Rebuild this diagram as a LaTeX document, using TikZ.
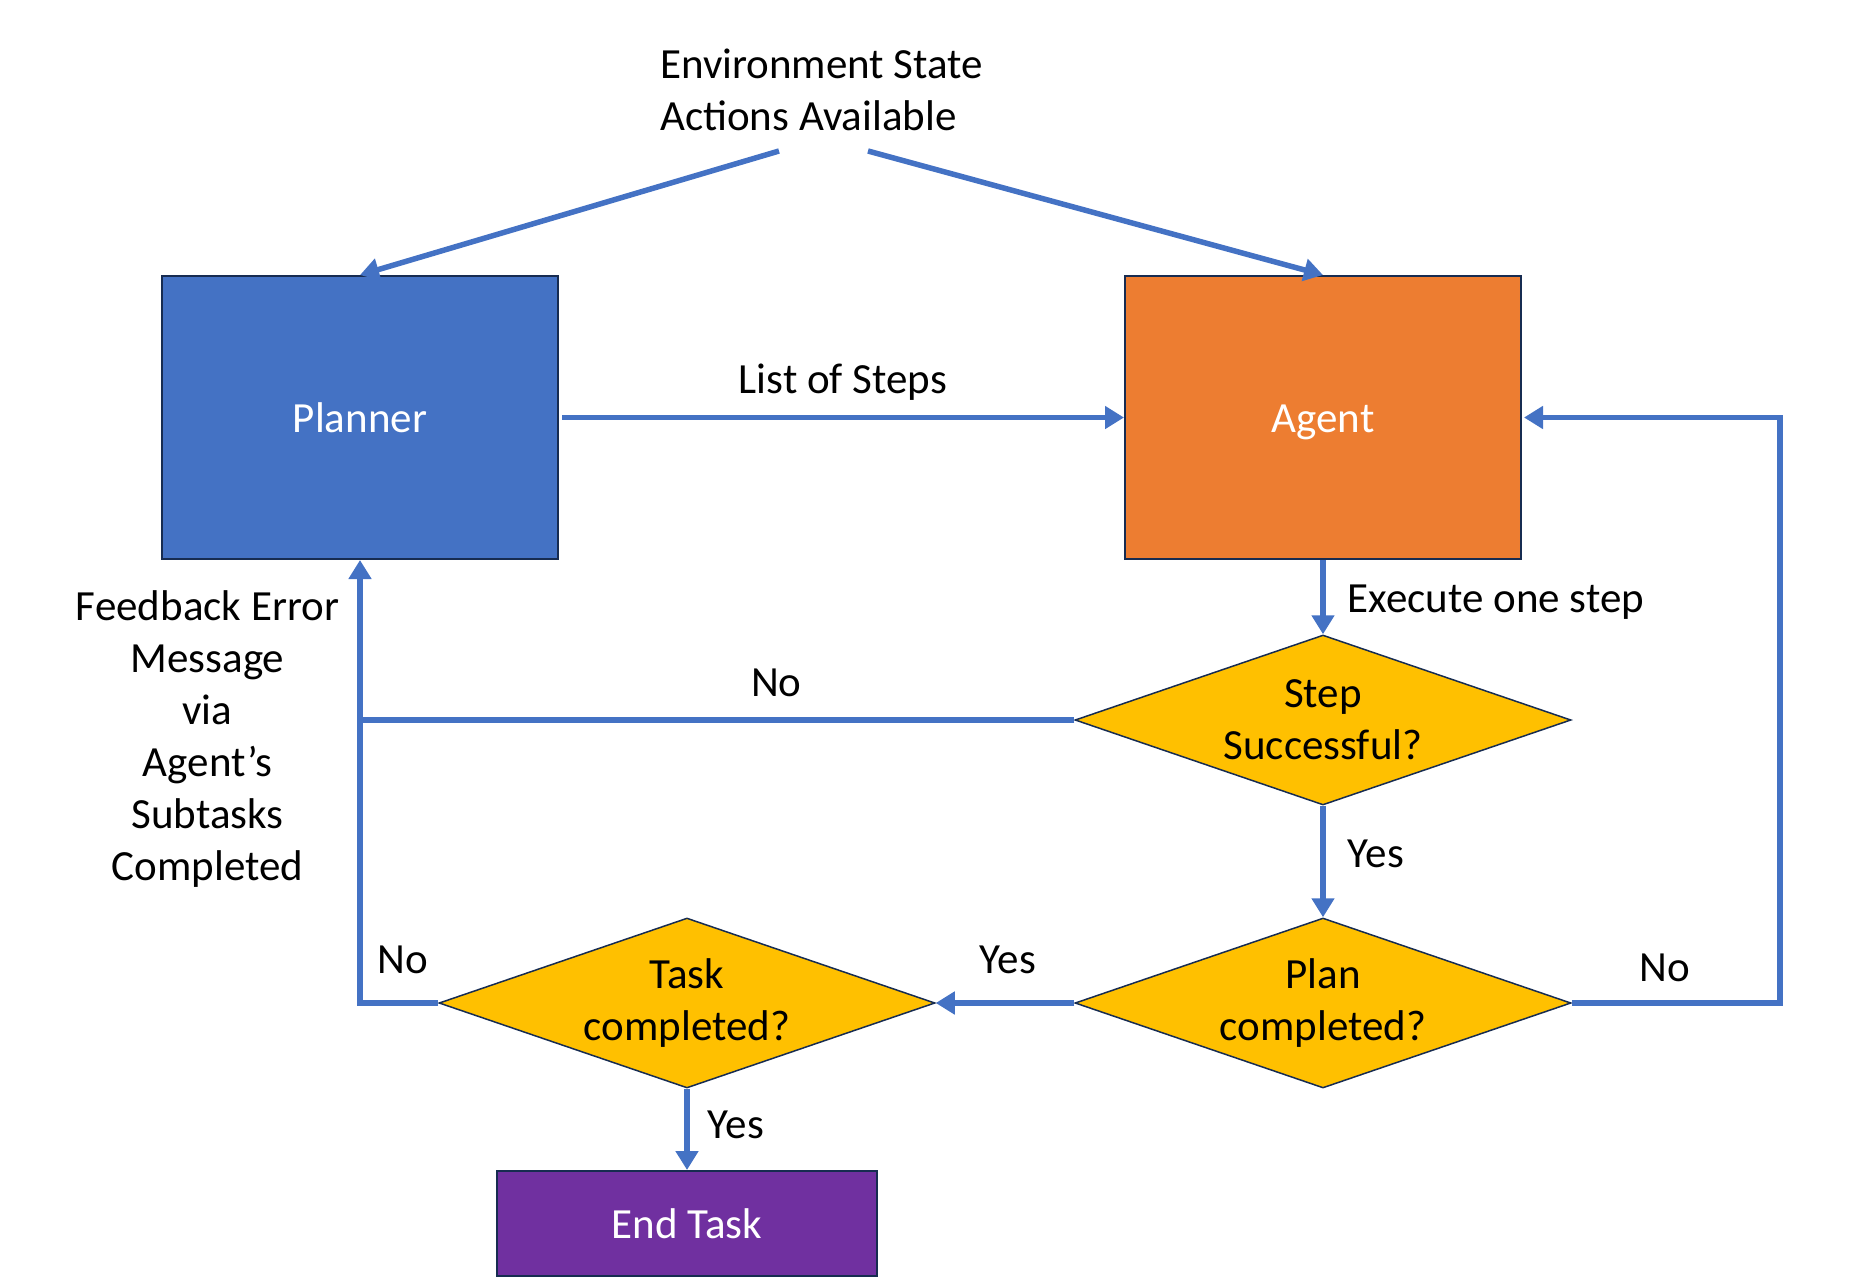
\documentclass[tikz,border=0pt]{standalone}
\usepackage{fontspec}
\setmainfont{Carlito}
\usetikzlibrary{shapes.geometric,arrows.meta}
\definecolor{pblue}{HTML}{4472C4}
\definecolor{porange}{HTML}{ED7D31}
\definecolor{pgold}{HTML}{FFC000}
\definecolor{ppurple}{HTML}{7030A0}
\definecolor{pnavy}{HTML}{172C51}
\tikzset{
  every node/.style={font=\fontsize{43}{52}\selectfont, inner sep=0pt},
  box/.style={draw=pnavy, line width=2pt, text=white, minimum width=396pt, minimum height=283pt,
    text height=30pt, text depth=0pt},
  decision/.style={diamond, draw=pnavy, line width=1.5pt, fill=pgold, shape aspect=2.95,
    minimum width=496pt, minimum height=170pt, align=center},
  conn/.style={draw=pblue, line width=5.5pt},
  arr/.style={conn, -{Triangle[width=22pt,length=19pt]}},
  lbl/.style={text=black}
}
\begin{document}
\begin{tikzpicture}[x=1pt,y=-1pt]
\useasboundingbox (0,0) rectangle (1850,1286);
% nodes
\node[lbl, align=left, anchor=west] (env) at (660,90) {Environment State\\Actions Available};
\coordinate (e1) at (779,151);
\coordinate (e2) at (868,151);
\node[box, fill=pblue] (planner) at (360,417.5) {Planner};
\node[box, fill=porange] (agent) at (1323,417.5) {Agent};
\node[decision] (step) at (1323,720) {Step\\Successful?};
\node[decision] (plan) at (1323,1003) {Plan\\completed?};
\node[decision] (task) at (687,1003) {Task\\completed?};
\node[draw=pnavy, line width=2pt, fill=ppurple, text=white, minimum width=380pt, minimum height=105pt] (endt) at (687,1223.5) {End Task};
\coordinate (jr) at (1780,1003);
% connectors
\draw[arr] (e1) -- (planner.north);
\draw[arr] (e2) -- (agent.north);
\draw[arr] ([xshift=3pt]planner.east) -- node[lbl, above=14pt] (los) {List of Steps} (agent.west);
\draw[arr] (agent.south) -- node[lbl, right=22pt, pos=0.57] (exe) {Execute one step} (step.north);
\draw[conn] (step.west) -- node[lbl, above=20pt, pos=0.417] (no1) {No} (planner.south |- step.west);
\draw[arr] (task.west) -| (planner.south);
\draw[arr] (step.south) -- node[lbl, right=22pt, pos=0.43] (yes1) {Yes} (plan.north);
\draw[arr] (plan.west) -- node[lbl, above=26pt, pos=0.48] (yes2) {Yes} (task.east);
\draw[arr] (plan.east) -- (jr) |- ([xshift=2pt]agent.east);
\draw[arr] (task.south) -- node[lbl, right=18pt, pos=0.45] (yes3) {Yes} (endt.north);
\node[lbl] (no2) at (1665,968) {No};
\node[lbl] (no3) at (403,960) {No};
\node[lbl, align=center] (fb) at (207.5,739) {Feedback Error\\Message\\via\\Agent’s\\Subtasks\\Completed};
\end{tikzpicture}
\end{document}
